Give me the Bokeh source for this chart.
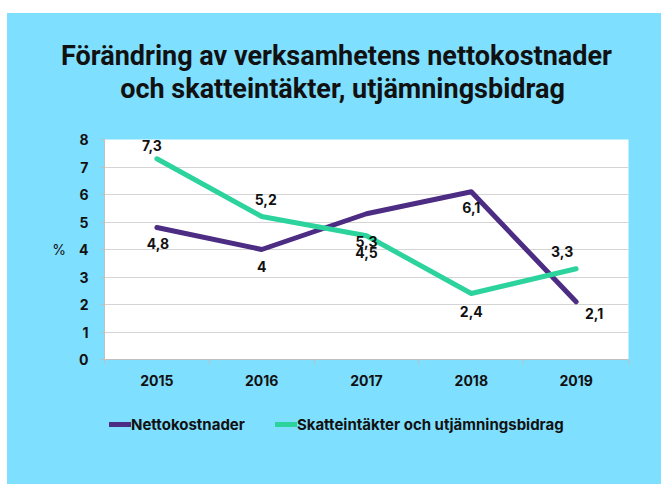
from bokeh.plotting import figure
from bokeh.layouts import column
from bokeh.models import (ColumnDataSource, FixedTicker, Legend, LegendItem, Range1d, Label, LinearAxis, Plot)
from bokeh.embed import file_html
from bokeh.resources import INLINE
from bokeh.core.properties import value

# ---- data ----
years = ["2015", "2016", "2017", "2018", "2019"]
netto = [4.8, 4.0, 5.3, 6.1, 2.1]
skatt = [7.3, 5.2, 4.5, 2.4, 3.3]
series_names = ["Nettokostnader", "Skatteintäkter och utjämningsbidrag"]
y_ticks = [0, 1, 2, 3, 4, 5, 6, 7, 8]
title_lines = ["Förändring av verksamhetens nettokostnader",
               "och skatteintäkter, utjämningsbidrag"]
y_label = "%"

# ---- label placement (style, screen px) ----
netto_dx = [1, 0, 0, 0, 18]
netto_dy = [16, 17, 28, 16, 12]
skatt_dx = [-5, 4, 0, 0, -14]
skatt_dy = [-13, -17, 17, 18, -17]

BG = "#7FDFFF"
PURPLE = "#4D2C84"
GREEN = "#2DD39C"
TXT = "#111111"
FONT = "Inter"
W = 654
HAS_FA = "frame_align" in Plot.properties()

def fmt(v):
    return f"{v:g}".replace(".", ",")

def strip(height):
    f = figure(width=W, height=height, output_backend="svg", toolbar_location=None,
               x_axis_type=None, y_axis_type=None, x_range=Range1d(0, 1), y_range=Range1d(0, 1),
               min_border=0, background_fill_color=BG, border_fill_color=BG, outline_line_color=None)
    f.grid.grid_line_color = None
    if HAS_FA:
        f.frame_align = False
    return f

xs = [i + 0.5 for i in range(len(years))]
src_n = ColumnDataSource(dict(x=xs, y=netto, t=[fmt(v) for v in netto], dx=netto_dx, dy=netto_dy))
src_s = ColumnDataSource(dict(x=xs, y=skatt, t=[fmt(v) for v in skatt], dx=skatt_dx, dy=skatt_dy))

# ---- header with the title ----
hd = strip(114)
fx = 0 if HAS_FA else -97
title_x = [329, 335]
title_y = [72, 39]
for i, line in enumerate(title_lines):
    hd.add_layout(Label(x=title_x[i] + fx, y=title_y[i], x_units="screen", y_units="screen",
                        text=line, text_align="center", text_baseline="alphabetic",
                        text_font="Roboto", text_font_size="27px", text_font_style="bold",
                        text_color=TXT))

# ---- main chart ----
p = figure(width=W, height=273, output_backend="svg", toolbar_location=None,
           x_range=Range1d(0, len(years)), y_range=Range1d(0, 8),
           min_border_left=97, min_border_right=33, min_border_top=12, min_border_bottom=41,
           background_fill_color="white", border_fill_color=BG, outline_line_color=None)

p.xgrid.grid_line_color = None
p.ygrid.grid_line_color = "#D4D4D4"
p.ygrid.grid_line_width = 1
p.ygrid.ticker = FixedTicker(ticks=y_ticks)

ya = p.yaxis[0]
ya.ticker = FixedTicker(ticks=y_ticks)
ya.axis_line_color = "#C0C0C0"
ya.major_tick_line_color = "#C0C0C0"
ya.major_tick_in = 0
ya.major_tick_out = 4
ya.minor_tick_line_color = None
ya.major_label_standoff = 12
ya.major_label_text_font = FONT
ya.major_label_text_font_style = "bold"
ya.major_label_text_font_size = "14px"
ya.major_label_text_color = TXT
ya.axis_label = y_label
ya.axis_label_text_font = FONT
ya.axis_label_text_font_style = "normal"
ya.axis_label_text_font_size = "14px"
ya.axis_label_text_color = TXT
ya.axis_label_standoff = 10
if "axis_label_orientation" in LinearAxis.properties():
    ya.axis_label_orientation = "horizontal"

xa = p.xaxis[0]
xa.ticker = FixedTicker(ticks=xs, minor_ticks=list(range(len(years) + 1)))
xa.major_label_overrides = {x: y for x, y in zip(xs, years)}
xa.axis_line_color = "#C0C0C0"
xa.major_tick_in = 0
xa.major_tick_out = 0
xa.minor_tick_in = 0
xa.minor_tick_out = 5
xa.minor_tick_line_color = "#C0C0C0"
xa.major_label_standoff = 10
xa.major_label_text_font = FONT
xa.major_label_text_font_style = "bold"
xa.major_label_text_font_size = "14px"
xa.major_label_text_color = TXT

line_kw = dict(line_width=5, line_cap="round", line_join="round")
r1 = p.line("x", "y", source=src_n, line_color=PURPLE, **line_kw)
r2 = p.line("x", "y", source=src_s, line_color=GREEN, **line_kw)

for src in (src_n, src_s):
    p.text("x", "y", text="t", source=src, x_offset="dx", y_offset="dy",
           text_font=value(FONT), text_font_style="bold", text_font_size="14px",
           text_color=TXT, text_align="center", text_baseline="middle")

# ---- legend strip ----
lg = strip(84)
nan = float("nan")
k1 = lg.line(x=[nan], y=[nan], line_color=PURPLE, **line_kw)
k2 = lg.line(x=[nan], y=[nan], line_color=GREEN, **line_kw)
legend = Legend(items=[LegendItem(label=series_names[0], renderers=[k1]),
                       LegendItem(label=series_names[1], renderers=[k2])],
                orientation="horizontal", location=(102 + fx, 50), spacing=30,
                glyph_width=22, glyph_height=20, label_standoff=0, padding=0, margin=0,
                border_line_color=None, background_fill_alpha=0,
                label_text_font=FONT, label_text_font_style="bold",
                label_text_font_size="15px", label_text_color=TXT)
lg.add_layout(legend, "center")

layout = column(hd, p, lg, spacing=0)
layout.styles = {"margin-left": "7px", "margin-top": "13px", "background-color": BG}

open("out.html", "w").write(file_html(layout, INLINE))
